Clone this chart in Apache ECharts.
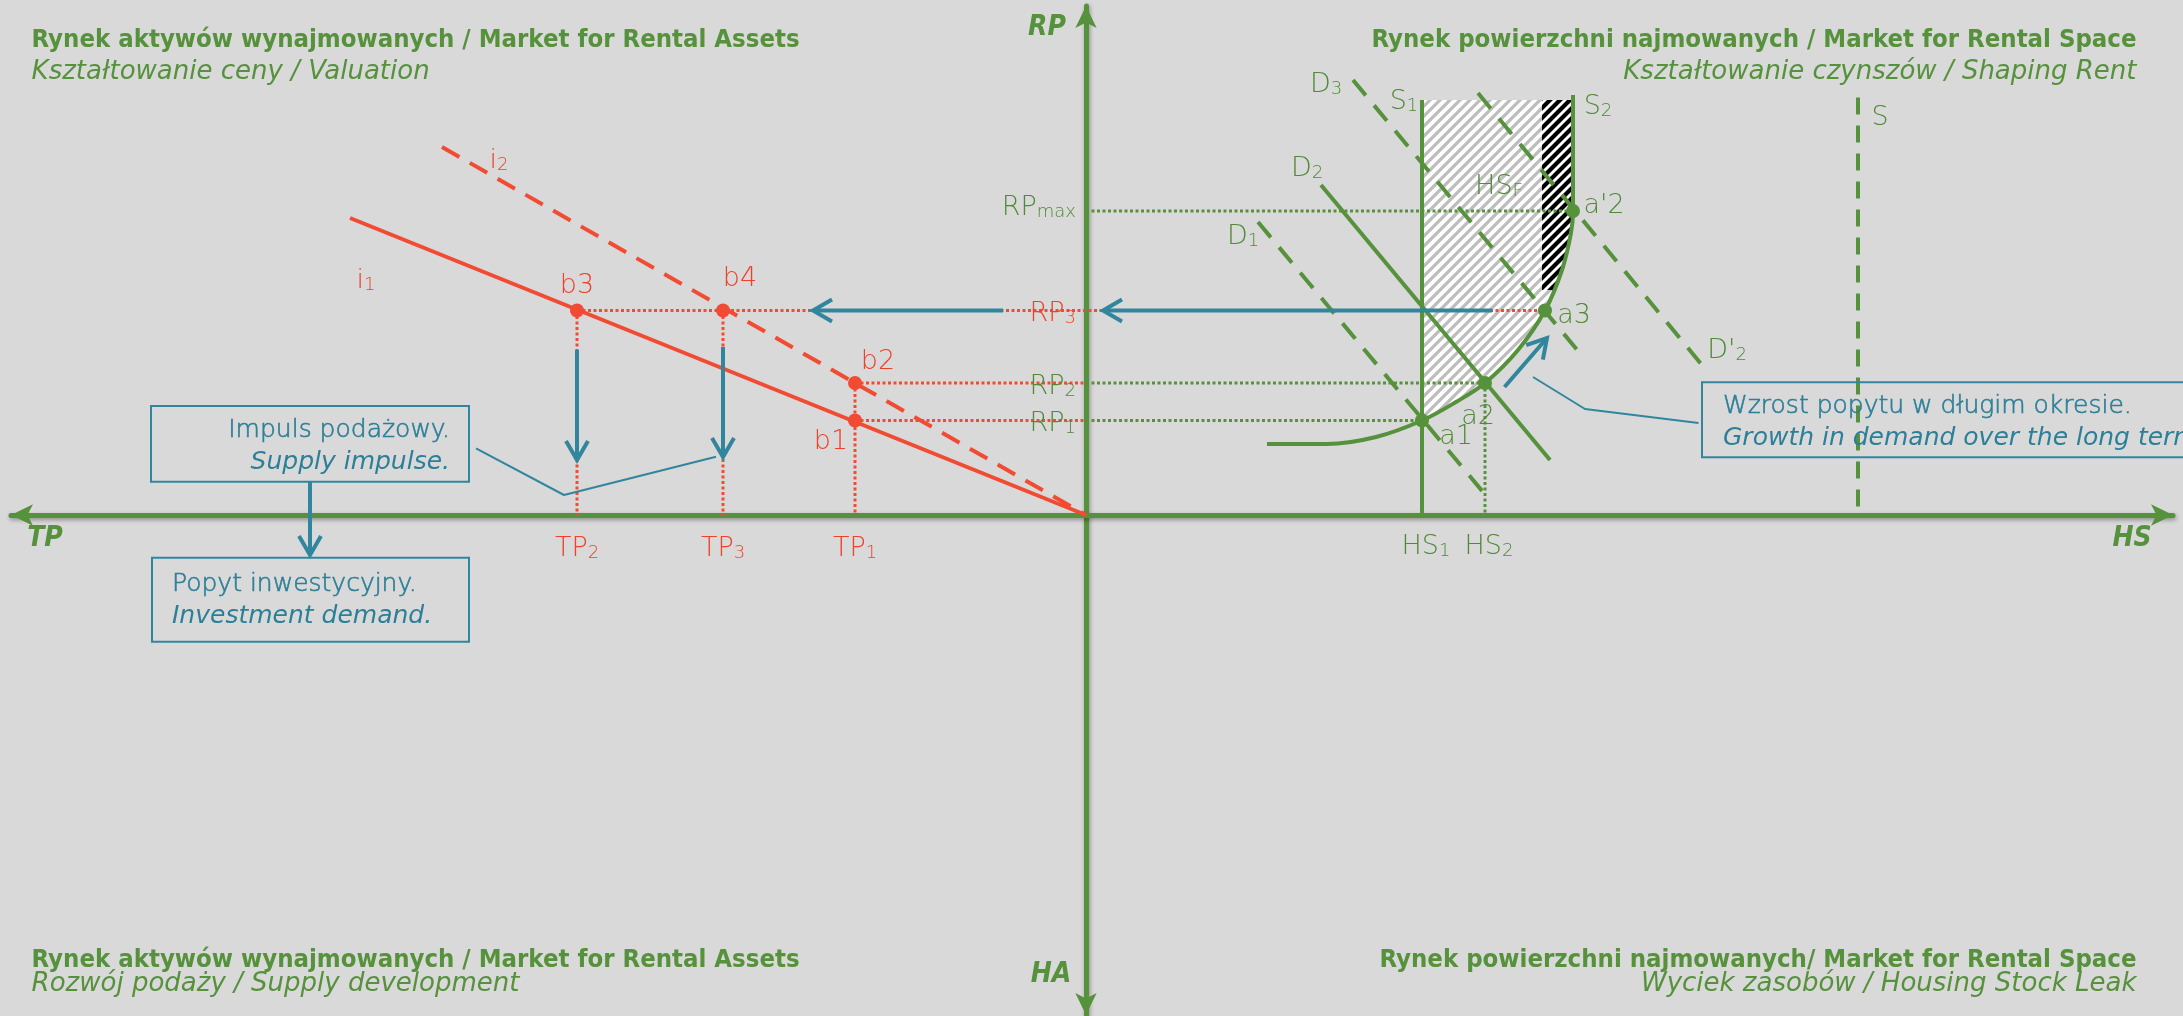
<!DOCTYPE html>
<html><head><meta charset="utf-8">
<script src="https://cdn.jsdelivr.net/npm/echarts@6/dist/echarts.min.js"></script>
<style>html,body{margin:0;padding:0;background:#D9D9D9;overflow:hidden}#c{width:2183px;height:1016px}</style>
</head><body><div id="c"></div>
<script>
// ===== DATA (abstract units, origin where the two axes cross) =====
const rpNames = ['RP_1', 'RP_2', 'RP_3', 'RP_max'];
const rpValues = [9.45, 13.2, 20.45, 30.4];
const tpNames = ['TP_2', 'TP_3', 'TP_1'];
const tpValues = [-50.9, -36.3, -23.1];
const hsNames = ['HS_1', 'HS_2'];
const hsValues = [33.6, 39.9];

const lineI1 = [[-73.6, 29.7], [0, 0]];
const lineI2 = [[-64.4, 36.8], [0, 0]];
const demandD1 = [[17.2, 29.3], [39.7, 2.3]];
const demandD2 = [[23.5, 33.0], [46.4, 5.5]];
const demandD3 = [[26.7, 43.5], [49.7, 15.8]];
const demandD2p = [[39.2, 42.2], [61.6, 15.0]];
const supplyS1 = [[33.6, 41.5], [33.6, 0]];
const supplyS = [[77.2, 41.75], [77.2, 0]];
const supplyCurve = [[18.1, 7.1], [24.1, 7.1], [29.0, 7.8], [33.6, 9.45], [37.0, 11.3], [39.9, 13.2], [43.2, 16.5], [45.9, 20.45], [47.6, 24.5], [48.5, 28.2], [48.7, 30.4], [48.7, 42.0]];
const hatchLight = [[33.6, 41.5], [48.7, 41.5], [48.7, 30.4], [48.5, 28.2], [47.6, 24.5], [45.9, 20.45], [43.2, 16.5], [39.9, 13.2], [37.0, 11.3], [33.6, 9.45]];
const hatchDark = [[45.6, 41.5], [48.7, 41.5], [48.7, 30.4], [48.5, 28.2], [47.6, 24.5], [46.8, 22.5], [45.6, 22.5]];

const pointsA = [[33.6, 9.45], [39.9, 13.2], [45.9, 20.45], [48.7, 30.4]];
const pointsB = [[-23.1, 9.45], [-23.1, 13.2], [-50.9, 20.45], [-36.3, 20.45]];

const redDotted = [
  [[-50.9, 20.45], [45.9, 20.45]],
  [[-23.1, 13.2], [0, 13.2]],
  [[-23.1, 9.45], [0, 9.45]],
  [[-50.9, 20.45], [-50.9, 0]],
  [[-36.3, 20.45], [-36.3, 0]],
  [[-23.1, 13.2], [-23.1, 0]]
];
const greenDotted = [
  [[0, 13.2], [39.9, 13.2]],
  [[0, 9.45], [33.6, 9.45]],
  [[0, 30.4], [48.7, 30.4]],
  [[39.9, 13.2], [39.9, 0]]
];
const blueArrows = [
  [40.6, 20.45, 1.7, 20.45],
  [-8.3, 20.45, -27.3, 20.45],
  [-50.9, 16.5, -50.9, 5.5],
  [-36.3, 16.8, -36.3, 5.8],
  [-77.6, 3.3, -77.6, -4.0],
  [41.85, 12.8, 46.1, 17.7]
];
const connectors = [
  [[-61.0, 6.67], [-52.2, 2.0], [-37.0, 5.83]],
  [[44.7, 13.8], [49.9, 10.6], [61.25, 9.2]]
];
const boxes = [
  [-93.5, 10.9, -61.7, 3.33],
  [-93.4, -4.27, -61.7, -12.67],
  [61.6, 13.27, 125, 5.77]
];
const boxLines = [
  ['Impuls podażowy.', 'Supply impulse.'],
  ['Popyt inwestycyjny.', 'Investment demand.'],
  ['Wzrost popytu w długim okresie.', 'Growth in demand over the long term.']
];
const greenLabels = [
  ['D_3', 24.0, 43.4], ['S_1', 31.8, 41.7], ['S_2', 51.2, 41.2], ['D_2', 22.1, 35.0], ['HS_F', 41.3, 33.2],
  ["a'2", 51.8, 31.3], ['a3', 48.8, 20.3], ["D'_2", 64.1, 16.8], ['a2', 39.2, 10.2], ['a1', 37.0, 8.2],
  ['D_1', 15.7, 28.2], ['S', 79.4, 40.1]
];
const redLabels = [
  ['i_1', -72.0, 23.8], ['i_2', -58.7, 35.8], ['b3', -50.9, 23.3], ['b4', -34.6, 24.0], ['b2', -20.8, 15.7], ['b1', -25.5, 7.7]
];
const axisNames = [['TP', -104.1, -2.33], ['HS', 104.6, -2.33], ['RP', -3.9, 48.7], ['HA', -3.5, -46.0]];
const titlesLeft = [
  ['Rynek aktywów wynajmowanych / Market for Rental Assets', 'Kształtowanie ceny / Valuation'],
  ['Rynek aktywów wynajmowanych / Market for Rental Assets', 'Rozwój podaży / Supply development']
];
const titlesRight = [
  ['Rynek powierzchni najmowanych / Market for Rental Space', 'Kształtowanie czynszów / Shaping Rent'],
  ['Rynek powierzchni najmowanych/ Market for Rental Space', 'Wyciek zasobów / Housing Stock Leak']
];

// ===== STYLE =====
const GREEN = '#56913C', RED = '#F24B33', BLUE = '#31869E', BG = '#D9D9D9';
const LABEL_GREEN = '#4F8A36', LABEL_RED = '#EE4129', TEXT_BLUE = '#2C7F98';
const LIGHT = '"DejaVu Sans"';
const HEAD = '"DejaVu Sans Condensed"';

function stripes(color, size, width) {
  const c = document.createElement('canvas');
  c.width = c.height = size;
  const g = c.getContext('2d');
  g.fillStyle = '#ffffff'; g.fillRect(0, 0, size, size);
  g.strokeStyle = color; g.lineWidth = width; g.lineCap = 'square';
  g.beginPath();
  for (let k = -1; k <= 1; k++) { g.moveTo(k * size, size); g.lineTo(k * size + size, 0); }
  g.stroke();
  return c;
}
const patLight = stripes('#BDBDBD', 10, 3.2);
const patDark = stripes('#000000', 10, 4.2);

function richText(name) {
  const i = name.indexOf('_');
  if (i < 0) return '{m|' + name + '}';
  return '{m|' + name.slice(0, i) + '}{s|' + name.slice(i + 1) + '}';
}
function richStyle(color, size) {
  return {
    m: { fontFamily: LIGHT, fontSize: size, fontWeight: 200, lineHeight: 34, fill: color, verticalAlign: 'bottom' },
    s: { fontFamily: LIGHT, fontSize: 18, fontWeight: 200, lineHeight: 16, fill: color, verticalAlign: 'bottom' }
  };
}

const series = [];
function mkLine(data, color, width, type, z, smooth) {
  series.push({
    type: 'line', data: data, showSymbol: false, silent: true, z: z, smooth: smooth || false,
    lineStyle: { color: color, width: width, type: type, cap: 'butt' }, animation: false
  });
}
function polySeries(poly, pat, z) {
  series.push({
    type: 'custom', z: z, silent: true, data: [[0, 0]],
    renderItem: (p, api) => ({
      type: 'polygon', shape: { points: poly.map(q => api.coord(q)) },
      style: { fill: { image: pat, repeat: 'repeat' }, stroke: null }
    })
  });
}
polySeries(hatchLight, patLight, 1);
polySeries(hatchDark, patDark, 1);

redDotted.forEach(d => mkLine(d, RED, 3, [3, 2.5], 2));
greenDotted.forEach(d => mkLine(d, GREEN, 3, [3, 2.5], 2));

mkLine(lineI1, RED, 4, 'solid', 3);
mkLine(lineI2, RED, 4, [20, 12], 3);
mkLine(demandD1, GREEN, 4, [20, 13], 3);
mkLine(demandD2, GREEN, 4, 'solid', 3);
mkLine(demandD3, GREEN, 4, [20, 13], 3);
mkLine(demandD2p, GREEN, 4, [20, 13], 3);
mkLine(supplyS1, GREEN, 4, 'solid', 3);
mkLine(supplyS, GREEN, 4, [17, 11], 3);
mkLine(supplyCurve, GREEN, 4, 'solid', 3, 0.35);
connectors.forEach(d => mkLine(d, BLUE, 2, 'solid', 3));

series.push({
  type: 'custom', z: 4, silent: true, data: blueArrows,
  renderItem: (p, api) => {
    const a = api.coord([api.value(0), api.value(1)]);
    const b = api.coord([api.value(2), api.value(3)]);
    const dx = b[0] - a[0], dy = b[1] - a[1], L = Math.hypot(dx, dy), ux = dx / L, uy = dy / L;
    const hl = 19, hw = 11;
    const p1 = [b[0] - ux * hl - uy * hw, b[1] - uy * hl + ux * hw];
    const p2 = [b[0] - ux * hl + uy * hw, b[1] - uy * hl - ux * hw];
    return { type: 'group', children: [
      { type: 'line', shape: { x1: a[0], y1: a[1], x2: b[0] - ux * 2, y2: b[1] - uy * 2 }, style: { stroke: BLUE, lineWidth: 4 } },
      { type: 'polyline', shape: { points: [p1, b, p2] }, style: { stroke: BLUE, lineWidth: 4, fill: null, lineJoin: 'miter' } }
    ] };
  }
});

series.push({
  type: 'custom', z: 4, silent: true, data: boxes.map((b, i) => [b[0], b[1], b[2], b[3], i]),
  renderItem: (p, api) => {
    const i = api.value(4);
    const tl = api.coord([api.value(0), api.value(1)]);
    const br = api.coord([api.value(2), api.value(3)]);
    const lines = boxLines[i];
    const right = i === 0;
    const tx = right ? br[0] - 19 : tl[0] + (i === 1 ? 20 : 21);
    const off = i === 1 ? [27, 59] : [24, 56];
    return { type: 'group', children: [
      { type: 'rect', shape: { x: tl[0], y: tl[1], width: br[0] - tl[0], height: br[1] - tl[1] }, style: { fill: null, stroke: BLUE, lineWidth: 2 } },
      { type: 'text', x: tx, y: tl[1] + off[0], style: { text: lines[0], fill: TEXT_BLUE, font: '200 25px ' + LIGHT, align: right ? 'right' : 'left', verticalAlign: 'middle', stroke: TEXT_BLUE, lineWidth: 0.6 } },
      { type: 'text', x: tx, y: tl[1] + off[1], style: { text: lines[1], fill: TEXT_BLUE, font: 'italic 200 25px ' + LIGHT, align: right ? 'right' : 'left', verticalAlign: 'middle' } }
    ] };
  }
});

series.push({ type: 'scatter', z: 5, silent: true, data: pointsA, symbolSize: 14, itemStyle: { color: GREEN, opacity: 1 } });
series.push({ type: 'scatter', z: 5, silent: true, data: pointsB, symbolSize: 14, itemStyle: { color: RED, opacity: 1 } });

function labelSeries(items, color, align, dx, dy, size) {
  series.push({
    type: 'custom', z: 6, silent: true, data: items.map((l, i) => [l[1], l[2], i]),
    renderItem: (p, api) => {
      const pt = api.coord([api.value(0), api.value(1)]);
      const it = items[api.value(2)];
      const col = typeof color === 'function' ? color(it[0]) : color;
      const ddy = typeof dy === 'function' ? dy(it[0]) : dy;
      return { type: 'text', x: pt[0] + dx, y: pt[1] + ddy, style: {
        text: richText(it[0]), rich: richStyle(col, size), fill: col, align: align, verticalAlign: 'middle'
      } };
    }
  });
}
labelSeries(greenLabels, LABEL_GREEN, 'center', 0, 0, 27);
labelSeries(redLabels, LABEL_RED, 'center', 0, 0, 27);
labelSeries(rpNames.map((n, i) => [n, 0, rpValues[i]]), n => n === 'RP_3' ? LABEL_RED : LABEL_GREEN, 'right', -10, n => n === 'RP_max' ? -7 : 0, 27);
labelSeries(tpNames.map((n, i) => [n, tpValues[i], 0]), LABEL_RED, 'center', 0, 30, 27);
labelSeries(hsNames.map((n, i) => [n, hsValues[i], 0]), LABEL_GREEN, 'center', 4, 28, 27);

series.push({
  type: 'custom', z: 6, silent: true, data: axisNames.map((l, i) => [l[1], l[2], i]),
  renderItem: (p, api) => {
    const pt = api.coord([api.value(0), api.value(1)]);
    return { type: 'text', x: pt[0], y: pt[1], style: { text: axisNames[api.value(2)][0], fill: GREEN,
      font: 'italic bold 28px ' + HEAD, align: 'center', verticalAlign: 'middle' } };
  }
});

const graphic = [];
[[40, 72], [960, 984]].forEach((ys, k) => {
  graphic.push({ type: 'text', x: 31.6, y: ys[0], style: { text: titlesLeft[k][0], fill: GREEN, font: 'bold 25.5px ' + HEAD, align: 'left', verticalAlign: 'middle' } });
  graphic.push({ type: 'text', x: 31.6, y: ys[1], style: { text: titlesLeft[k][1], fill: GREEN, font: 'italic 200 26px ' + LIGHT, align: 'left', verticalAlign: 'middle' } });
  graphic.push({ type: 'text', x: 2136.5, y: ys[0], style: { text: titlesRight[k][0], fill: GREEN, font: 'bold 25.5px ' + HEAD, align: 'right', verticalAlign: 'middle' } });
  graphic.push({ type: 'text', x: 2136.5, y: ys[1], style: { text: titlesRight[k][1], fill: GREEN, font: 'italic 200 26px ' + LIGHT, align: 'right', verticalAlign: 'middle' } });
});

const axisCommon = {
  type: 'value', splitLine: { show: false }, axisTick: { show: false }, axisLabel: { show: false },
  axisLine: { show: true, onZero: true, symbol: ['arrow', 'arrow'], symbolSize: [16, 22],
    lineStyle: { color: GREEN, width: 5, shadowBlur: 4, shadowColor: 'rgba(0,0,0,0.35)', shadowOffsetY: 2, shadowOffsetX: 1 } }
};

const chart = echarts.init(document.getElementById('c'), null, { renderer: 'canvas' });
chart.setOption({
  backgroundColor: BG,
  animation: false,
  grid: { left: 11, right: 10, top: 6, bottom: 1 },
  xAxis: Object.assign({}, axisCommon, { min: -107.5, max: 108.7 }),
  yAxis: Object.assign({}, axisCommon, { min: -50.0, max: 50.9 }),
  graphic: graphic,
  series: series
});
</script></body></html>
